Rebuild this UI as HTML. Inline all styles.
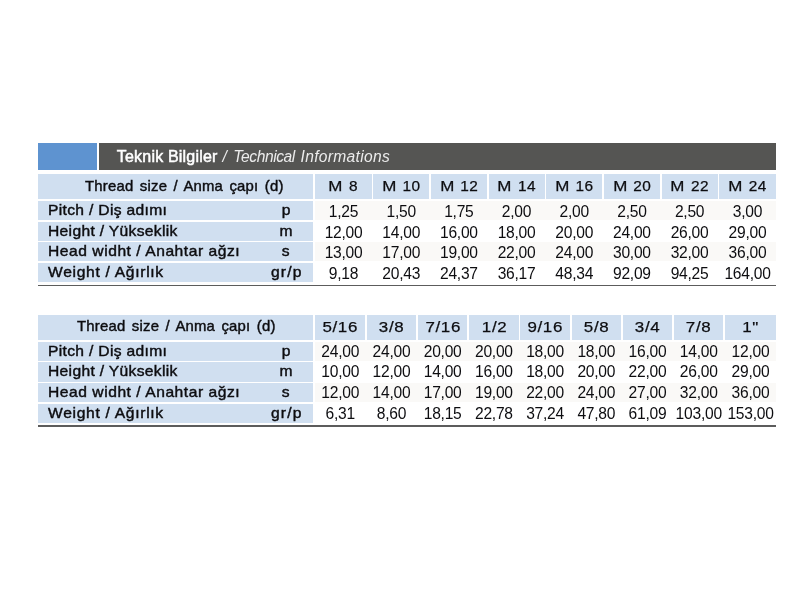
<!DOCTYPE html>
<html><head><meta charset="utf-8">
<style>
html,body{margin:0;padding:0;background:#fff;}
body{width:800px;height:600px;position:relative;overflow:hidden;font-family:"Liberation Sans",sans-serif;color:#0d0d10;}
.abs{position:absolute;}
.c{position:absolute;white-space:nowrap;font-size:15.3px;text-align:center;}
.lb{background:#d0dff0;}
.g{background:#faf9f7;}
.ln{background:#5c5c5c;height:1.7px !important;}
.l{text-align:left;}
.hd,.l,.ch{font-size:14.6px;-webkit-text-stroke:0.42px #0d0d10;}
.th{display:inline-block;letter-spacing:0.2px;word-spacing:2px;position:relative;top:-0.5px;left:9.4px;transform:scaleX(1.02);}
.th2{left:1.7px;}
.ch span{display:inline-block;letter-spacing:0.6px;word-spacing:0.5px;transform:scaleX(1.1);position:relative;left:0.3px;top:-0.8px;-webkit-text-stroke-width:0.25px;font-size:15.4px;}
.m span{left:0.2px;letter-spacing:0.4px;word-spacing:1.2px;transform:none;}
.ch b{font-weight:normal;display:inline-block;transform:scaleX(1.1);margin:0 0.6px;}
.v{line-height:20.4px;font-size:15.6px;letter-spacing:-0.25px;}
.v span{display:block;transform:translateY(0.5px);}
.v2 span{transform:translateY(0.1px);}
.t{position:absolute;left:10.5px;top:0px;letter-spacing:0.3px;transform-origin:0 50%;transform:scaleX(1.07);}
.t2{letter-spacing:0.5px;}
.t3{letter-spacing:0.65px;}
.u{position:absolute;left:218.3px;width:60px;text-align:center;top:0px;}
.u span{display:inline-block;letter-spacing:0.3px;transform:scaleX(1.07);}
.u .u3{letter-spacing:1.1px;position:relative;left:0.5px;}
.bar{left:99px;top:143px;width:676.8px;height:27px;background:#555553;color:#fff;line-height:27px;font-size:15px;white-space:nowrap;}
.w1{letter-spacing:-0.42px;}
.w2{letter-spacing:0.32px;}
.b1{position:absolute;left:17.8px;top:-0.5px;font-size:16px;-webkit-text-stroke:0.5px #fff;letter-spacing:0.2px;}
.b2{position:absolute;left:123.6px;font-style:italic;font-size:15.6px;color:#ececec;letter-spacing:0.05px;word-spacing:2px;top:-0.5px;}
</style></head><body>
<div class="abs" style="left:37.5px;top:143px;width:59.5px;height:27px;background:#5e93d0"></div>
<div class="abs bar"><span class="b1">Teknik Bilgiler</span><span class="b2">/ <span class="w1">Technical</span> <span class="w2" style="margin-left:-0.8px">Informations</span></span></div>
<div class="c lb hd" style="left:37.5px;top:174px;width:275.2px;height:25.4px;line-height:25.4px"><span class="th">Thread size / Anma çapı (d)</span></div>
<div class="c lb ch m" style="left:314.7px;top:174px;width:56.9px;height:25.4px;line-height:25.4px"><span><b>M</b> 8</span></div>
<div class="c lb ch m" style="left:373.17px;top:174px;width:56.1px;height:25.4px;line-height:25.4px"><span><b>M</b> 10</span></div>
<div class="c lb ch m" style="left:430.84px;top:174px;width:56.1px;height:25.4px;line-height:25.4px"><span><b>M</b> 12</span></div>
<div class="c lb ch m" style="left:488.51px;top:174px;width:56.1px;height:25.4px;line-height:25.4px"><span><b>M</b> 14</span></div>
<div class="c lb ch m" style="left:546.18px;top:174px;width:56.1px;height:25.4px;line-height:25.4px"><span><b>M</b> 16</span></div>
<div class="c lb ch m" style="left:603.85px;top:174px;width:56.1px;height:25.4px;line-height:25.4px"><span><b>M</b> 20</span></div>
<div class="c lb ch m" style="left:661.52px;top:174px;width:56.1px;height:25.4px;line-height:25.4px"><span><b>M</b> 22</span></div>
<div class="c lb ch m" style="left:719.19px;top:174px;width:56.61px;height:25.4px;line-height:25.4px"><span><b>M</b> 24</span></div>
<div class="c lb l" style="left:37.5px;top:201.1px;width:275.2px;height:19px;line-height:19px"><span class="t t0">Pitch / Diş adımı</span><span class="u"><span class="u0">p</span></span></div>
<div class="abs g" style="left:314.7px;top:201.1px;width:461.1px;height:19px"></div>
<div class="c v" style="left:315.5px;top:201.1px;width:56.1px;height:19px"><span>1,25</span></div>
<div class="c v" style="left:373.17px;top:201.1px;width:56.1px;height:19px"><span>1,50</span></div>
<div class="c v" style="left:430.84px;top:201.1px;width:56.1px;height:19px"><span>1,75</span></div>
<div class="c v" style="left:488.51px;top:201.1px;width:56.1px;height:19px"><span>2,00</span></div>
<div class="c v" style="left:546.18px;top:201.1px;width:56.1px;height:19px"><span>2,00</span></div>
<div class="c v" style="left:603.85px;top:201.1px;width:56.1px;height:19px"><span>2,50</span></div>
<div class="c v" style="left:661.52px;top:201.1px;width:56.1px;height:19px"><span>2,50</span></div>
<div class="c v" style="left:719.19px;top:201.1px;width:56.61px;height:19px"><span>3,00</span></div>
<div class="c lb l" style="left:37.5px;top:221.8px;width:275.2px;height:19px;line-height:19px"><span class="t t1">Height / Yükseklik</span><span class="u"><span class="u1">m</span></span></div>
<div class="c v" style="left:315.5px;top:221.8px;width:56.1px;height:19px"><span>12,00</span></div>
<div class="c v" style="left:373.17px;top:221.8px;width:56.1px;height:19px"><span>14,00</span></div>
<div class="c v" style="left:430.84px;top:221.8px;width:56.1px;height:19px"><span>16,00</span></div>
<div class="c v" style="left:488.51px;top:221.8px;width:56.1px;height:19px"><span>18,00</span></div>
<div class="c v" style="left:546.18px;top:221.8px;width:56.1px;height:19px"><span>20,00</span></div>
<div class="c v" style="left:603.85px;top:221.8px;width:56.1px;height:19px"><span>24,00</span></div>
<div class="c v" style="left:661.52px;top:221.8px;width:56.1px;height:19px"><span>26,00</span></div>
<div class="c v" style="left:719.19px;top:221.8px;width:56.61px;height:19px"><span>29,00</span></div>
<div class="c lb l" style="left:37.5px;top:242.4px;width:275.2px;height:19px;line-height:19px"><span class="t t2">Head widht / Anahtar ağzı</span><span class="u"><span class="u2">s</span></span></div>
<div class="abs g" style="left:314.7px;top:242.4px;width:461.1px;height:19px"></div>
<div class="c v" style="left:315.5px;top:242.4px;width:56.1px;height:19px"><span>13,00</span></div>
<div class="c v" style="left:373.17px;top:242.4px;width:56.1px;height:19px"><span>17,00</span></div>
<div class="c v" style="left:430.84px;top:242.4px;width:56.1px;height:19px"><span>19,00</span></div>
<div class="c v" style="left:488.51px;top:242.4px;width:56.1px;height:19px"><span>22,00</span></div>
<div class="c v" style="left:546.18px;top:242.4px;width:56.1px;height:19px"><span>24,00</span></div>
<div class="c v" style="left:603.85px;top:242.4px;width:56.1px;height:19px"><span>30,00</span></div>
<div class="c v" style="left:661.52px;top:242.4px;width:56.1px;height:19px"><span>32,00</span></div>
<div class="c v" style="left:719.19px;top:242.4px;width:56.61px;height:19px"><span>36,00</span></div>
<div class="c lb l" style="left:37.5px;top:263px;width:275.2px;height:19px;line-height:19px"><span class="t t3">Weight / Ağırlık</span><span class="u"><span class="u3">gr/p</span></span></div>
<div class="c v" style="left:315.5px;top:263px;width:56.1px;height:19px"><span>9,18</span></div>
<div class="c v" style="left:373.17px;top:263px;width:56.1px;height:19px"><span>20,43</span></div>
<div class="c v" style="left:430.84px;top:263px;width:56.1px;height:19px"><span>24,37</span></div>
<div class="c v" style="left:488.51px;top:263px;width:56.1px;height:19px"><span>36,17</span></div>
<div class="c v" style="left:546.18px;top:263px;width:56.1px;height:19px"><span>48,34</span></div>
<div class="c v" style="left:603.85px;top:263px;width:56.1px;height:19px"><span>92,09</span></div>
<div class="c v" style="left:661.52px;top:263px;width:56.1px;height:19px"><span>94,25</span></div>
<div class="c v" style="left:719.19px;top:263px;width:56.61px;height:19px"><span>164,00</span></div>
<div class="abs ln" style="left:37.5px;top:284.5px;width:738.3px;height:2px"></div>
<div class="c lb hd" style="left:37.5px;top:314.6px;width:275.2px;height:25.3px;line-height:25.3px"><span class="th th2">Thread size / Anma çapı (d)</span></div>
<div class="c lb ch" style="left:314.7px;top:314.6px;width:50.3px;height:25.3px;line-height:25.3px"><span>5/16</span></div>
<div class="c lb ch" style="left:366.71px;top:314.6px;width:49.5px;height:25.3px;line-height:25.3px"><span>3/8</span></div>
<div class="c lb ch" style="left:417.92px;top:314.6px;width:49.5px;height:25.3px;line-height:25.3px"><span>7/16</span></div>
<div class="c lb ch" style="left:469.13px;top:314.6px;width:49.5px;height:25.3px;line-height:25.3px"><span>1/2</span></div>
<div class="c lb ch" style="left:520.34px;top:314.6px;width:49.5px;height:25.3px;line-height:25.3px"><span>9/16</span></div>
<div class="c lb ch" style="left:571.55px;top:314.6px;width:49.5px;height:25.3px;line-height:25.3px"><span>5/8</span></div>
<div class="c lb ch" style="left:622.76px;top:314.6px;width:49.5px;height:25.3px;line-height:25.3px"><span>3/4</span></div>
<div class="c lb ch" style="left:673.97px;top:314.6px;width:49.5px;height:25.3px;line-height:25.3px"><span>7/8</span></div>
<div class="c lb ch" style="left:725.18px;top:314.6px;width:50.62px;height:25.3px;line-height:25.3px"><span>1"</span></div>
<div class="c lb l" style="left:37.5px;top:341.7px;width:275.2px;height:19.2px;line-height:19.2px"><span class="t t0">Pitch / Diş adımı</span><span class="u"><span class="u0">p</span></span></div>
<div class="abs g" style="left:314.7px;top:341.7px;width:461.1px;height:19.2px"></div>
<div class="c v v2" style="left:315.5px;top:341.7px;width:49.5px;height:19.2px"><span>24,00</span></div>
<div class="c v v2" style="left:366.71px;top:341.7px;width:49.5px;height:19.2px"><span>24,00</span></div>
<div class="c v v2" style="left:417.92px;top:341.7px;width:49.5px;height:19.2px"><span>20,00</span></div>
<div class="c v v2" style="left:469.13px;top:341.7px;width:49.5px;height:19.2px"><span>20,00</span></div>
<div class="c v v2" style="left:520.34px;top:341.7px;width:49.5px;height:19.2px"><span>18,00</span></div>
<div class="c v v2" style="left:571.55px;top:341.7px;width:49.5px;height:19.2px"><span>18,00</span></div>
<div class="c v v2" style="left:622.76px;top:341.7px;width:49.5px;height:19.2px"><span>16,00</span></div>
<div class="c v v2" style="left:673.97px;top:341.7px;width:49.5px;height:19.2px"><span>14,00</span></div>
<div class="c v v2" style="left:725.18px;top:341.7px;width:50.62px;height:19.2px"><span>12,00</span></div>
<div class="c lb l" style="left:37.5px;top:362.4px;width:275.2px;height:19.2px;line-height:19.2px"><span class="t t1">Height / Yükseklik</span><span class="u"><span class="u1">m</span></span></div>
<div class="c v v2" style="left:315.5px;top:362.4px;width:49.5px;height:19.2px"><span>10,00</span></div>
<div class="c v v2" style="left:366.71px;top:362.4px;width:49.5px;height:19.2px"><span>12,00</span></div>
<div class="c v v2" style="left:417.92px;top:362.4px;width:49.5px;height:19.2px"><span>14,00</span></div>
<div class="c v v2" style="left:469.13px;top:362.4px;width:49.5px;height:19.2px"><span>16,00</span></div>
<div class="c v v2" style="left:520.34px;top:362.4px;width:49.5px;height:19.2px"><span>18,00</span></div>
<div class="c v v2" style="left:571.55px;top:362.4px;width:49.5px;height:19.2px"><span>20,00</span></div>
<div class="c v v2" style="left:622.76px;top:362.4px;width:49.5px;height:19.2px"><span>22,00</span></div>
<div class="c v v2" style="left:673.97px;top:362.4px;width:49.5px;height:19.2px"><span>26,00</span></div>
<div class="c v v2" style="left:725.18px;top:362.4px;width:50.62px;height:19.2px"><span>29,00</span></div>
<div class="c lb l" style="left:37.5px;top:383px;width:275.2px;height:19.2px;line-height:19.2px"><span class="t t2">Head widht / Anahtar ağzı</span><span class="u"><span class="u2">s</span></span></div>
<div class="abs g" style="left:314.7px;top:383px;width:461.1px;height:19.2px"></div>
<div class="c v v2" style="left:315.5px;top:383px;width:49.5px;height:19.2px"><span>12,00</span></div>
<div class="c v v2" style="left:366.71px;top:383px;width:49.5px;height:19.2px"><span>14,00</span></div>
<div class="c v v2" style="left:417.92px;top:383px;width:49.5px;height:19.2px"><span>17,00</span></div>
<div class="c v v2" style="left:469.13px;top:383px;width:49.5px;height:19.2px"><span>19,00</span></div>
<div class="c v v2" style="left:520.34px;top:383px;width:49.5px;height:19.2px"><span>22,00</span></div>
<div class="c v v2" style="left:571.55px;top:383px;width:49.5px;height:19.2px"><span>24,00</span></div>
<div class="c v v2" style="left:622.76px;top:383px;width:49.5px;height:19.2px"><span>27,00</span></div>
<div class="c v v2" style="left:673.97px;top:383px;width:49.5px;height:19.2px"><span>32,00</span></div>
<div class="c v v2" style="left:725.18px;top:383px;width:50.62px;height:19.2px"><span>36,00</span></div>
<div class="c lb l" style="left:37.5px;top:403.6px;width:275.2px;height:19.2px;line-height:19.2px"><span class="t t3">Weight / Ağırlık</span><span class="u"><span class="u3">gr/p</span></span></div>
<div class="c v v2" style="left:315.5px;top:403.6px;width:49.5px;height:19.2px"><span>6,31</span></div>
<div class="c v v2" style="left:366.71px;top:403.6px;width:49.5px;height:19.2px"><span>8,60</span></div>
<div class="c v v2" style="left:417.92px;top:403.6px;width:49.5px;height:19.2px"><span>18,15</span></div>
<div class="c v v2" style="left:469.13px;top:403.6px;width:49.5px;height:19.2px"><span>22,78</span></div>
<div class="c v v2" style="left:520.34px;top:403.6px;width:49.5px;height:19.2px"><span>37,24</span></div>
<div class="c v v2" style="left:571.55px;top:403.6px;width:49.5px;height:19.2px"><span>47,80</span></div>
<div class="c v v2" style="left:622.76px;top:403.6px;width:49.5px;height:19.2px"><span>61,09</span></div>
<div class="c v v2" style="left:673.97px;top:403.6px;width:49.5px;height:19.2px"><span>103,00</span></div>
<div class="c v v2" style="left:725.18px;top:403.6px;width:50.62px;height:19.2px"><span>153,00</span></div>
<div class="abs ln" style="left:37.5px;top:425.1px;width:738.3px;height:2px"></div>
</body></html>
